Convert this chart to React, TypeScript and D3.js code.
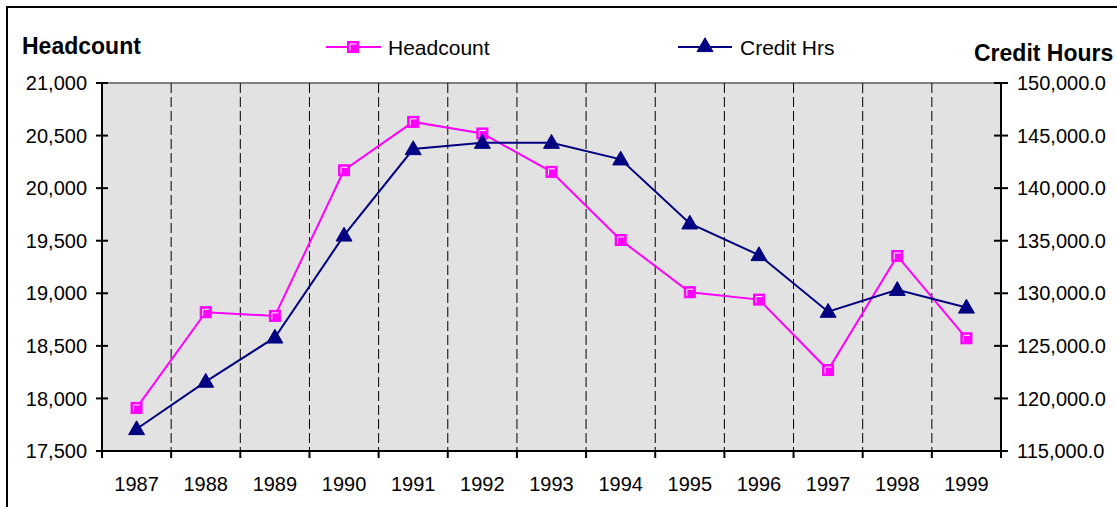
import React from 'react';
import * as d3 from 'd3';

const YEARS = ['1987', '1988', '1989', '1990', '1991', '1992', '1993', '1994', '1995', '1996', '1997', '1998', '1999'];
const HEADCOUNT = [17910, 18820, 18785, 20170, 20630, 20520, 20155, 19507, 19010, 18940, 18270, 19355, 18572];
const CREDIT_HRS = [117090, 121600, 125800, 135500, 143720, 144320, 144320, 142740, 136650, 133640, 128250, 130330, 128650];
const LEFT_TICKS = [17500, 18000, 18500, 19000, 19500, 20000, 20500, 21000];
const RIGHT_TICKS = [115000, 120000, 125000, 130000, 135000, 140000, 145000, 150000];

const W = 1117;
const H = 507;
const FONT = '"Liberation Sans", Arial, sans-serif';
const PINK = '#ff00ff';
const NAVY = '#000080';

const plot = { left: 102, right: 1001, top: 83, bottom: 451 };

function Square({ x, y })
{
    return (
        <g>
            <rect x={ x - 5.5 } y={ y - 5.5 } width={ 11 } height={ 11 } fill={ PINK } stroke={ PINK } strokeWidth={ 1 } />
            <path d={ `M${ x - 3 },${ y + 3.5 }V${ y - 3 }H${ x + 3.5 }` } fill="none" stroke="#fff" strokeWidth={ 1 } />
        </g>
    );
}

function Triangle({ x, y })
{
    const tri = d3.symbol().type(d3.symbolTriangle).size(110)();
    return <path d={ tri } transform={ `translate(${ x },${ y + 1 })` } fill={ NAVY } stroke={ NAVY } strokeWidth={ 1 } />;
}

export default function App()
{
    const x = d3.scaleBand().domain(YEARS).range([plot.left, plot.right]);
    const yL = d3.scaleLinear().domain([17500, 21000]).range([plot.bottom, plot.top]);
    const yR = d3.scaleLinear().domain([115000, 150000]).range([plot.bottom, plot.top]);
    const cx = (d) => x(d) + x.bandwidth() / 2;

    const headLine = d3.line().x((d, i) => cx(YEARS[i])).y((d) => yL(d))(HEADCOUNT);
    const credLine = d3.line().x((d, i) => cx(YEARS[i])).y((d) => yR(d))(CREDIT_HRS);

    const boundaries = YEARS.map((y) => x(y)).concat([plot.right]);
    const fmtL = d3.format(',');
    const fmtR = d3.format(',.1f');

    return (
        <svg width={ W } height={ H } style={ { position: 'absolute', left: 0, top: 0 } } fontFamily={ FONT }>
            <rect x={ 0 } y={ 0 } width={ W } height={ H } fill="#fff" />
            <rect x={ 7 } y={ 7 } width={ W + 50 } height={ H + 50 } fill="none" stroke="#000" strokeWidth={ 2 } />

            <rect x={ plot.left } y={ plot.top } width={ plot.right - plot.left } height={ plot.bottom - plot.top } fill="#e2e2e2" />
            <line x1={ plot.left } x2={ plot.right } y1={ plot.top } y2={ plot.top } stroke="#808080" strokeWidth={ 2 } />

            { boundaries.slice(1, -1).map((bx, i) => (
                <line key={ i } x1={ bx } x2={ bx } y1={ plot.top } y2={ plot.bottom } stroke="#000" strokeWidth={ 1 } strokeDasharray="10,4" />
            )) }

            {/* axes */}
            <line x1={ plot.left } x2={ plot.left } y1={ plot.top } y2={ plot.bottom } stroke="#000" strokeWidth={ 2 } />
            <line x1={ plot.right } x2={ plot.right } y1={ plot.top } y2={ plot.bottom } stroke="#000" strokeWidth={ 2 } />
            <line x1={ plot.left } x2={ plot.right } y1={ plot.bottom } y2={ plot.bottom } stroke="#000" strokeWidth={ 2 } />

            { LEFT_TICKS.map((t) => (
                <g key={ t }>
                    <line x1={ plot.left - 6 } x2={ plot.left + 6 } y1={ yL(t) } y2={ yL(t) } stroke="#000" strokeWidth={ 2 } />
                    <text x={ 87 } y={ yL(t) } dy="0.36em" textAnchor="end" fontSize={ 20 }>{ fmtL(t) }</text>
                </g>
            )) }
            { RIGHT_TICKS.map((t) => (
                <g key={ t }>
                    <line x1={ plot.right - 7 } x2={ plot.right + 7 } y1={ yR(t) } y2={ yR(t) } stroke="#000" strokeWidth={ 2 } />
                    <text x={ 1017 } y={ yR(t) } dy="0.36em" fontSize={ 20 }>{ fmtR(t) }</text>
                </g>
            )) }
            { boundaries.map((bx, i) => (
                <line key={ i } x1={ bx } x2={ bx } y1={ plot.bottom } y2={ plot.bottom + 7 } stroke="#000" strokeWidth={ 2 } />
            )) }
            { YEARS.map((yr) => (
                <text key={ yr } x={ cx(yr) } y={ 484 } dy="0.36em" textAnchor="middle" fontSize={ 20 }>{ yr }</text>
            )) }

            {/* series */}
            <path d={ headLine } fill="none" stroke={ PINK } strokeWidth={ 2 } />
            <path d={ credLine } fill="none" stroke={ NAVY } strokeWidth={ 2 } />
            { HEADCOUNT.map((v, i) => <Square key={ i } x={ cx(YEARS[i]) } y={ yL(v) } />) }
            { CREDIT_HRS.map((v, i) => <Triangle key={ i } x={ cx(YEARS[i]) } y={ yR(v) } />) }

            {/* titles */}
            <text x={ 22 } y={ 54 } fontSize={ 23 } fontWeight="bold">Headcount</text>
            <text x={ 974 } y={ 61 } fontSize={ 23 } fontWeight="bold">Credit Hours</text>

            {/* legend */}
            <line x1={ 326 } x2={ 381 } y1={ 47 } y2={ 47 } stroke={ PINK } strokeWidth={ 2 } />
            <Square x={ 353 } y={ 47 } />
            <text x={ 388 } y={ 47 } dy="0.36em" fontSize={ 21 }>Headcount</text>
            <line x1={ 678 } x2={ 732 } y1={ 47 } y2={ 47 } stroke={ NAVY } strokeWidth={ 2 } />
            <Triangle x={ 705 } y={ 46 } />
            <text x={ 740 } y={ 47 } dy="0.36em" fontSize={ 21 }>Credit Hrs</text>
        </svg>
    );
}
